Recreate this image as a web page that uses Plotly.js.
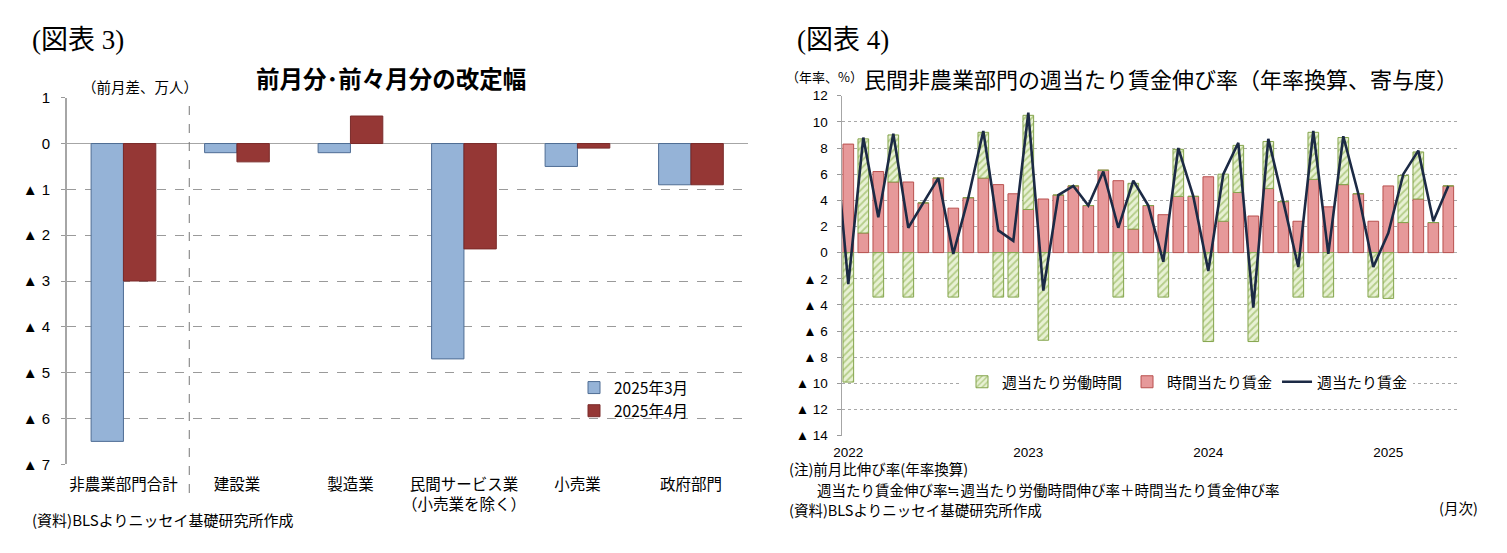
<!DOCTYPE html>
<html>
<head>
<meta charset="utf-8">
<script src="https://cdn.plot.ly/plotly-3.0.1.min.js"></script>
<style>
  html, body { margin: 0; padding: 0; background: #fff; }
  #wrap { position: relative; width: 1507px; height: 553px; }
  #chart3 { position: absolute; left: 0; top: 0; width: 770px; height: 553px; }
  #chart4 { position: absolute; left: 770px; top: 0; width: 737px; height: 553px; }
</style>
</head>
<body>
<div id="wrap">
  <div id="chart3"></div>
  <div id="chart4"></div>
</div>
<script>
// Figure 3 - revisions to previous months (10k persons)
const sectors = ["非農業部門合計", "建設業", "製造業", "民間サービス業<br>（小売業を除く）", "小売業", "政府部門"];
const revMar = [-6.5, -0.2, -0.2, -4.7, -0.5, -0.9];
const revApr = [-3.0, -0.4, 0.6, -2.3, -0.1, -0.9];
const revTicks = [1, 0, -1, -2, -3, -4, -5, -6, -7];

// Figure 4 - weekly wage growth, annualised, contributions (%)
const months = [
  "2022-01", "2022-02", "2022-03", "2022-04", "2022-05", "2022-06", "2022-07", "2022-08", "2022-09", "2022-10", "2022-11", "2022-12",
  "2023-01", "2023-02", "2023-03", "2023-04", "2023-05", "2023-06", "2023-07", "2023-08", "2023-09", "2023-10", "2023-11", "2023-12",
  "2024-01", "2024-02", "2024-03", "2024-04", "2024-05", "2024-06", "2024-07", "2024-08", "2024-09", "2024-10", "2024-11", "2024-12",
  "2025-01", "2025-02", "2025-03", "2025-04", "2025-05",
];
const hoursContrib = [
  -9.9, 7.2, -3.4, 3.6, -3.4, 0, 0, -3.4, 0, 3.5, -3.4, -3.4,
  7.2, -6.7, 0, 0, 0, 0, -3.4, 3.5, 0, -3.4, 3.6, 0,
  -6.8, 3.6, 3.6, -6.8, 3.6, 0, -3.4, 3.6, -3.4, 3.6, 0, -3.4,
  -3.5, 3.6, 3.6, 0, 0,
];
const hourlyContrib = [
  8.3, 1.5, 6.2, 5.4, 5.4, 3.8, 5.7, 3.4, 4.2, 5.7, 5.2, 4.5,
  3.3, 4.1, 4.4, 5.1, 3.6, 6.3, 5.5, 1.8, 3.6, 2.9, 4.3, 4.3,
  5.8, 2.4, 4.6, 2.8, 4.9, 3.9, 2.4, 5.6, 3.5, 5.2, 4.5, 2.4,
  5.1, 2.3, 4.1, 2.3, 5.1,
];
// the line comes in from the month before the axis starts
const lineMonths = ["2021-12"].concat(months);
const weeklyWage = [
  10.3,
  -2.4, 8.8, 2.7, 9.1, 1.9, 3.8, 5.7, -0.1, 4.2, 9.3, 1.7, 0.9,
  10.7, -2.9, 4.4, 5.1, 3.6, 6.2, 1.9, 5.5, 3.6, -0.7, 8.0, 4.3,
  -1.4, 6.0, 8.4, -4.2, 8.7, 3.9, -1.1, 9.3, -0.1, 8.9, 4.5, -1.1,
  1.5, 6.0, 7.8, 2.4, 5.1,
];
const yearLabels = ["2022", "2023", "2024", "2025"];
const wageTicks = [12, 10, 8, 6, 4, 2, 0, -2, -4, -6, -8, -10, -12, -14];

const JP = "Noto Sans CJK JP, Liberation Sans, sans-serif";
const NUM = "Liberation Sans, Noto Sans CJK JP, sans-serif";
const SERIF = "Liberation Serif, Noto Sans CJK JP, serif";
const H = 553;

// Japanese reports write negatives with a triangle
function triLabel(v) {
  return v < 0 ? "▲ " + Math.abs(v) : String(v);
}

// month string -> index from Jan 2022
function monthIndex(m) {
  const [y, mo] = m.split("-").map(Number);
  return (y - 2022) * 12 + (mo - 1);
}

// text placed by pixel inside a div of width w
function note(w, x, y, text, size, opts) {
  return Object.assign({
    xref: "paper", yref: "paper",
    x: x / w, y: 1 - y / H,
    xanchor: "left", yanchor: "middle",
    text: text, showarrow: false,
    font: { family: JP, size: size, color: "#000" },
  }, opts || {});
}

document.addEventListener("DOMContentLoaded", function () {
  // ---------- Figure 3 ----------
  const W3 = 770;
  const data3 = [
    {
      type: "bar", x: sectors, y: revMar, name: "2025年3月",
      marker: { color: "#95b3d7", line: { color: "#4f6d94", width: 1 } },
    },
    {
      type: "bar", x: sectors, y: revApr, name: "2025年4月",
      marker: { color: "#953735", line: { color: "#7a2b2a", width: 1 } },
    },
  ];
  const layout3 = {
    width: W3, height: H,
    margin: { l: 0, r: 0, t: 0, b: 0 },
    paper_bgcolor: "#fff", plot_bgcolor: "#fff",
    barmode: "group", bargap: 0.43, bargroupgap: 0,
    showlegend: true,
    legend: {
      x: 574 / W3, y: 1 - 371 / H, xanchor: "left", yanchor: "top",
      font: { family: JP, size: 15.5, color: "#000" },
      bgcolor: "rgba(0,0,0,0)", tracegroupgap: 0, itemwidth: 30,
    },
    xaxis: {
      domain: [66.7 / W3, 747.7 / W3],
      type: "category",
      showgrid: false, zeroline: false, showline: false,
      ticks: "", ticklabelstandoff: 9,
      tickfont: { family: JP, size: 15.5, color: "#000" },
    },
    yaxis: {
      domain: [1 - 464.3 / H, 1 - 97.7 / H],
      range: [-7, 1],
      tickvals: revTicks, ticktext: revTicks.map(triLabel),
      tickfont: { family: NUM, size: 15, color: "#000" },
      ticks: "outside", ticklen: 4, tickcolor: "#999",
      ticklabelstandoff: 8,
      showgrid: true, gridcolor: "#9a9a9a", griddash: "dash", gridwidth: 1,
      zeroline: true, zerolinecolor: "#a6a6a6", zerolinewidth: 1.5,
      showline: true, linecolor: "#a6a6a6", linewidth: 1.5,
    },
    shapes: [
      // separator between the total and the sectors
      {
        type: "line", xref: "x", yref: "paper",
        x0: 0.58, x1: 0.58, y0: 1 - 493 / H, y1: 1 - 97.7 / H,
        line: { color: "#777", width: 1, dash: "dash" },
      },
    ],
    annotations: [
      note(W3, 30, 40, "(図表 3)", 27, { font: { family: SERIF, size: 27, color: "#000" } }),
      note(W3, 391, 78, "<b>前月分･前々月分の改定幅</b>", 23.5, { xanchor: "center" }),
      note(W3, 80, 86, "（前月差、万人）", 14.5),
      note(W3, 30, 519, "(資料)BLSよりニッセイ基礎研究所作成", 15),
    ],
  };
  Plotly.newPlot("chart3", data3, layout3, { displayModeBar: false, staticPlot: true });

  // ---------- Figure 4 ----------
  const W4 = 737;
  const xs = months.map(monthIndex);
  const data4 = [
    {
      type: "bar", x: xs, y: hourlyContrib, name: "時間当たり賃金",
      legendrank: 2,
      marker: { color: "#e6999a", line: { color: "#b9504e", width: 1 } },
    },
    {
      type: "bar", x: xs, y: hoursContrib, name: "週当たり労働時間",
      legendrank: 1,
      marker: {
        color: "#e8f1d4",
        line: { color: "#84a44c", width: 1 },
        pattern: { shape: "/", bgcolor: "#e8f1d4", fgcolor: "#b4cd88", size: 5, solidity: 0.35 },
      },
    },
    {
      type: "scatter", mode: "lines", x: lineMonths.map(monthIndex), y: weeklyWage,
      name: "週当たり賃金", legendrank: 3,
      line: { color: "#1c2a45", width: 2.6 },
    },
  ];
  const layout4 = {
    width: W4, height: H,
    margin: { l: 0, r: 0, t: 0, b: 0 },
    paper_bgcolor: "#fff", plot_bgcolor: "#fff",
    barmode: "relative", bargap: 0.29,
    showlegend: true,
    legend: {
      orientation: "h",
      x: (962 - 770) / W4, y: 1 - 382 / H, xanchor: "left", yanchor: "middle",
      font: { family: JP, size: 15, color: "#000" },
      bgcolor: "#fff", itemwidth: 30, traceorder: "normal",
    },
    xaxis: {
      domain: [(842 - 770) / W4, (1457 - 770) / W4],
      range: [-0.42, 40.58],
      tickvals: yearLabels.map((y) => monthIndex(y + "-01")),
      ticktext: yearLabels,
      tickfont: { family: NUM, size: 13.5, color: "#000" },
      ticks: "", ticklabelstandoff: 7,
      showgrid: false, zeroline: false, showline: false,
    },
    yaxis: {
      domain: [1 - 435.7 / H, 1 - 95.7 / H],
      range: [-14, 12],
      tickvals: wageTicks, ticktext: wageTicks.map(triLabel),
      tickfont: { family: NUM, size: 13.5, color: "#000" },
      ticks: "outside", ticklen: 4, tickcolor: "#999",
      ticklabelstandoff: 6,
      showgrid: true, gridcolor: "#a8a8a8", griddash: "dot", gridwidth: 1,
      zeroline: true, zerolinecolor: "#b0b0b0", zerolinewidth: 1,
      showline: true, linecolor: "#a6a6a6", linewidth: 1.5,
    },
    annotations: [
      note(W4, 25, 40, "(図表 4)", 27, { font: { family: SERIF, size: 27, color: "#000" } }),
      note(W4, 14, 77, "（年率、%）", 13),
      note(W4, 92, 78, "民間非農業部門の週当たり賃金伸び率（年率換算、寄与度）", 22),
      note(W4, 17, 468, "(注)前月比伸び率(年率換算)", 14.5),
      note(W4, 45, 489, "週当たり賃金伸び率≒週当たり労働時間伸び率＋時間当たり賃金伸び率", 14.5),
      note(W4, 17, 509, "(資料)BLSよりニッセイ基礎研究所作成", 14.5),
      note(W4, 667, 507, "(月次)", 14.5),
    ],
  };
  Plotly.newPlot("chart4", data4, layout4, { displayModeBar: false, staticPlot: true });
});
</script>
</body>
</html>
